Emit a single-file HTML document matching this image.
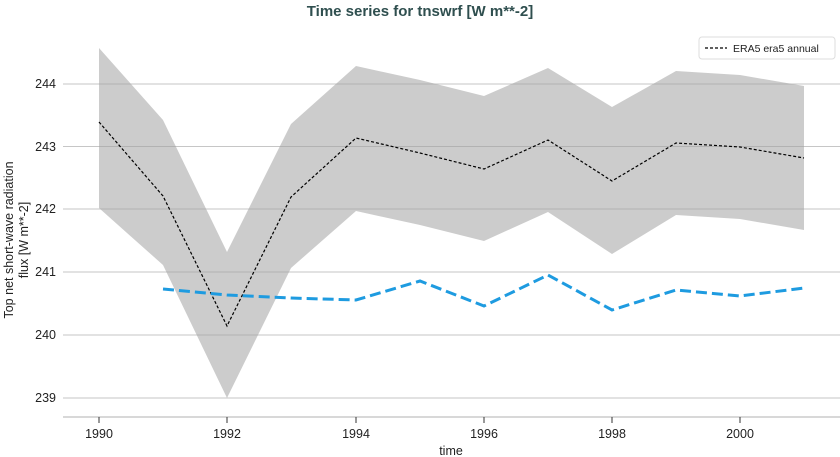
<html><body style="margin:0;background:#fff">
<svg width="840" height="457" xmlns="http://www.w3.org/2000/svg" font-family="Liberation Sans, DejaVu Sans, sans-serif">
<text x="420" y="16" text-anchor="middle" font-size="15" font-weight="bold" fill="#2f4f4f">Time series for tnswrf [W m**-2]</text>
<polygon fill="#cccccc" points="99,48 163,120 227,252 291,124 356,66 420,80 484,96 548,68 612,107 676,71 740,75 804,86 804,230 740,219 676,215 612,254 548,212 484,241 420,225 356,211 291,268 227,398 163,265 99,208"/>
<g stroke="#a0a0a0" stroke-opacity="0.6" stroke-width="1">
<line x1="63" x2="840" y1="84" y2="84"/><line x1="63" x2="840" y1="146.5" y2="146.5"/>
<line x1="63" x2="840" y1="209" y2="209"/><line x1="63" x2="840" y1="272" y2="272"/>
<line x1="63" x2="840" y1="335" y2="335"/><line x1="63" x2="840" y1="398" y2="398"/>
</g>
<polyline fill="none" stroke="#000" stroke-width="1.2" stroke-dasharray="3,2" points="99,122 163,196 227,326 291,197 356,138 420,153 484,169 548,140 612,181 676,143 740,147 804,158"/>
<polyline fill="none" stroke="#1e9be0" stroke-width="3" stroke-dasharray="11,5" points="163,289 227,295 291,298 356,300 420,281 484,306 548,275 612,310 676,290 740,296 804,288"/>
<line x1="63" x2="840" y1="417" y2="417" stroke="#cccccc" stroke-width="1.5"/>
<g stroke="#333" stroke-width="1">
<line x1="99" x2="99" y1="417" y2="423"/><line x1="227" x2="227" y1="417" y2="423"/><line x1="356" x2="356" y1="417" y2="423"/>
<line x1="484" x2="484" y1="417" y2="423"/><line x1="612" x2="612" y1="417" y2="423"/><line x1="740" x2="740" y1="417" y2="423"/>
</g>
<g font-size="12.5" fill="#222" text-anchor="middle">
<text x="99" y="438">1990</text><text x="227" y="438">1992</text><text x="356" y="438">1994</text>
<text x="484" y="438">1996</text><text x="612" y="438">1998</text><text x="740" y="438">2000</text>
<text x="451" y="455">time</text>
</g>
<g font-size="12.5" fill="#222" text-anchor="end">
<text x="56" y="88">244</text><text x="56" y="151">243</text><text x="56" y="213">242</text>
<text x="56" y="276">241</text><text x="56" y="339">240</text><text x="56" y="402">239</text>
</g>
<text transform="translate(13,240) rotate(-90)" font-size="12.5" fill="#222" text-anchor="middle">Top net short-wave radiation</text>
<text transform="translate(28,240) rotate(-90)" font-size="12.5" fill="#222" text-anchor="middle">flux [W m**-2]</text>
<rect x="699" y="37" width="136" height="22" rx="3" fill="#fff" stroke="#ddd"/>
<line x1="705" x2="727" y1="48" y2="48" stroke="#000" stroke-width="1.2" stroke-dasharray="3,2"/>
<text x="733" y="52" font-size="10.5" fill="#222">ERA5 era5 annual</text>
</svg>
</body></html>
